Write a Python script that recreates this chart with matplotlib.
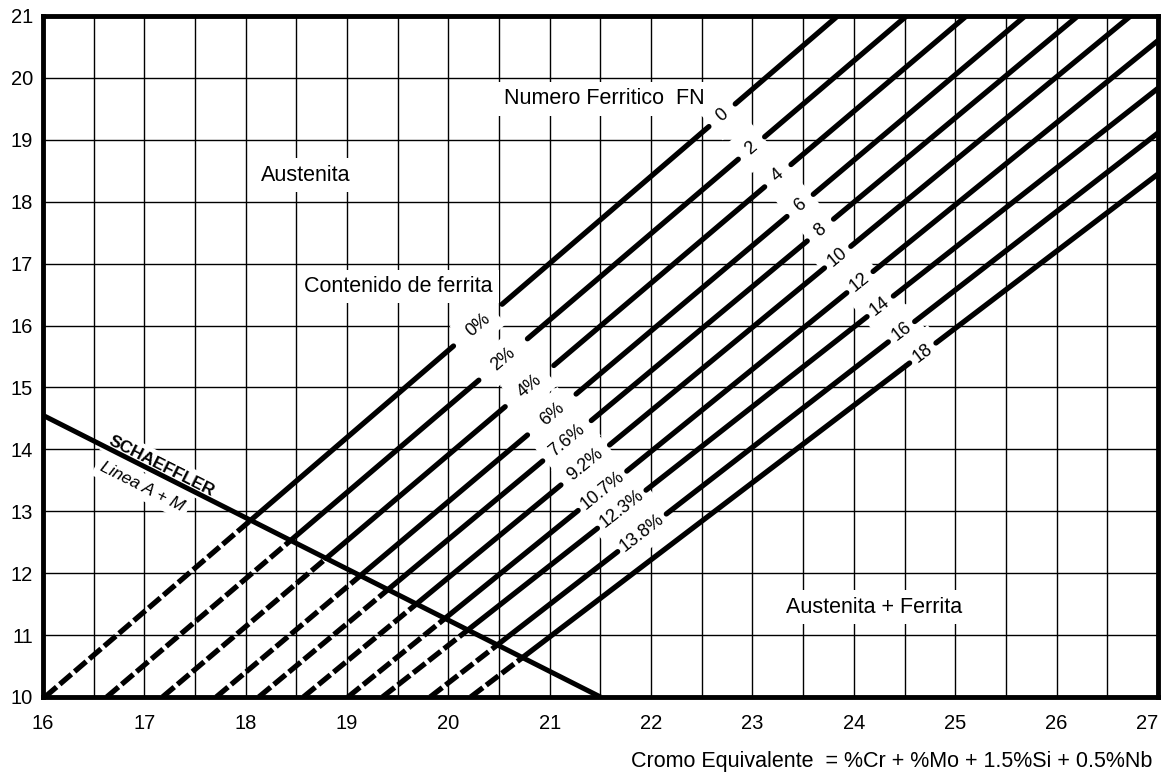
import matplotlib.pyplot as plt
import numpy as np

plt.rcParams['font.family'] = ['Liberation Sans', 'DejaVu Sans']

# iso-ferrite lines: Cr eq where each line meets Ni eq = 10 and Ni eq = 21
fn_numbers = ['0', '2', '4', '6', '8', '10', '12', '14', '16', '18']
cr_at_ni10 = [16.02, 16.63, 17.18, 17.71, 18.13, 18.57, 19.01, 19.35, 19.82, 20.22]
cr_at_ni21 = [23.84, 24.52, 25.11, 25.69, 26.21, 26.73, 27.30, 27.91, 28.49, 29.05]

# ferrite content (%) of the first nine lines
ferrite_pct = ['0%', '2%', '4%', '6%', '7.6%', '9.2%', '10.7%', '12.3%', '13.8%']

# Cr eq where the labels sit on each line
pct_label_cr = [20.29, 20.54, 20.80, 21.02, 21.17, 21.35, 21.52, 21.71, 21.91]
fn_label_cr = [22.70, 22.99, 23.25, 23.47, 23.67, 23.84, 24.06, 24.26, 24.47, 24.68]

# Schaeffler A + M boundary
schaeffler_cr = [16.0, 21.5]
schaeffler_ni = [14.55, 10.0]

x_ticks = np.arange(16, 28)
y_ticks = np.arange(10, 22)


def line_slope(i):
    return (21 - 10) / (cr_at_ni21[i] - cr_at_ni10[i])


def ni_on_line(i, cr):
    return 10 + (np.asarray(cr) - cr_at_ni10[i]) * line_slope(i)


s_slope = (schaeffler_ni[1] - schaeffler_ni[0]) / (schaeffler_cr[1] - schaeffler_cr[0])


def cross_schaeffler(i):
    m = line_slope(i)
    b = cr_at_ni10[i]
    return (schaeffler_ni[0] - s_slope * schaeffler_cr[0] - 10 + m * b) / (m - s_slope)


fig = plt.figure(figsize=(11.64, 7.79), dpi=100)
ax = fig.add_axes([0.0369, 0.1053, 0.9579, 0.8742])
ax.set_xlim(16, 27)
ax.set_ylim(10, 21)

ax.set_xticks(x_ticks)
ax.set_xticks(np.arange(16.5, 27, 1.0), minor=True)
ax.set_yticks(y_ticks)
ax.tick_params(which='both', length=0)
ax.tick_params(axis='x', pad=12, labelsize=14.5)
ax.tick_params(axis='y', pad=7, labelsize=14.5)
# last x label would run off the right edge
ax.get_xticklabels()[-1].set_horizontalalignment('right')
ax.grid(which='both', axis='x', color='black', lw=1.0)
ax.grid(which='major', axis='y', color='black', lw=1.0)
ax.set_axisbelow(True)
for sp in ax.spines.values():
    sp.set_linewidth(3.5)

LW = 3.8
white = dict(boxstyle='square,pad=0.3', fc='white', ec='none')

for i in range(len(fn_numbers)):
    cr_x = cross_schaeffler(i)
    # dashed part below the Schaeffler line
    seg = np.array([cr_at_ni10[i], cr_x])
    ax.plot(seg, ni_on_line(i, seg), color='black', lw=LW,
            linestyle=(0, (2.9, 0.8)), dash_capstyle='butt', zorder=2)

    # solid part, broken where the labels sit
    gaps = []
    if i < len(ferrite_pct):
        gaps.append((pct_label_cr[i] - 0.24, pct_label_cr[i] + 0.24))
    gaps.append((fn_label_cr[i] - 0.13, fn_label_cr[i] + 0.13))
    start = cr_x
    for g0, g1 in gaps:
        seg = np.array([start, g0])
        ax.plot(seg, ni_on_line(i, seg), color='black', lw=LW,
                solid_capstyle='round', zorder=2)
        start = g1
    seg = np.array([start, cr_at_ni21[i]])
    ax.plot(seg, ni_on_line(i, seg), color='black', lw=LW,
            solid_capstyle='round', zorder=2)

    ang = np.degrees(np.arctan(line_slope(i)))
    ax.text(fn_label_cr[i], ni_on_line(i, fn_label_cr[i]), fn_numbers[i],
            fontsize=13, rotation=ang, transform_rotates_text=True,
            rotation_mode='anchor', ha='center', va='center', zorder=1.5,
            bbox=dict(boxstyle='square,pad=0.6', fc='white', ec='none'))
    if i < len(ferrite_pct):
        ax.text(pct_label_cr[i], ni_on_line(i, pct_label_cr[i]), ferrite_pct[i],
                fontsize=13, rotation=ang, transform_rotates_text=True,
                rotation_mode='anchor', ha='center', va='center', zorder=1.5,
                bbox=dict(boxstyle='square,pad=0.5', fc='white', ec='none'))

ax.plot(schaeffler_cr, schaeffler_ni, color='black', lw=3.6,
        solid_capstyle='butt', zorder=2)
s_ang = np.degrees(np.arctan(s_slope))
ax.text(17.17, 13.72, 'SCHAEFFLER', fontsize=12.5, fontweight='bold',
        rotation=s_ang, transform_rotates_text=True, rotation_mode='anchor',
        ha='center', va='center', zorder=1.5, bbox=white)
ax.text(16.98, 13.40, 'Linea A + M', fontsize=12.5, style='italic',
        rotation=s_ang, transform_rotates_text=True, rotation_mode='anchor',
        ha='center', va='center', zorder=1.5, bbox=white)

# region names
ax.text(18.59, 18.43, 'Austenita', fontsize=15.5, ha='center', va='center',
        zorder=1.5, bbox=white)
ax.text(21.54, 19.66, 'Numero Ferritico  FN', fontsize=15.5, ha='center',
        va='center', zorder=1.5, bbox=white)
ax.text(19.51, 16.63, 'Contenido de ferrita', fontsize=15.5, ha='center',
        va='center', zorder=1.5, bbox=white)
ax.text(24.20, 11.45, 'Austenita + Ferrita', fontsize=15.5, ha='center',
        va='center', zorder=1.5, bbox=white)

ax.set_xlabel('Cromo Equivalente  = %Cr + %Mo + 1.5%Si + 0.5%Nb',
              fontsize=15.5, ha='right', va='top')
ax.xaxis.set_label_coords(0.9946, -0.079)

plt.savefig('out.png', dpi=100)
plt.close()
